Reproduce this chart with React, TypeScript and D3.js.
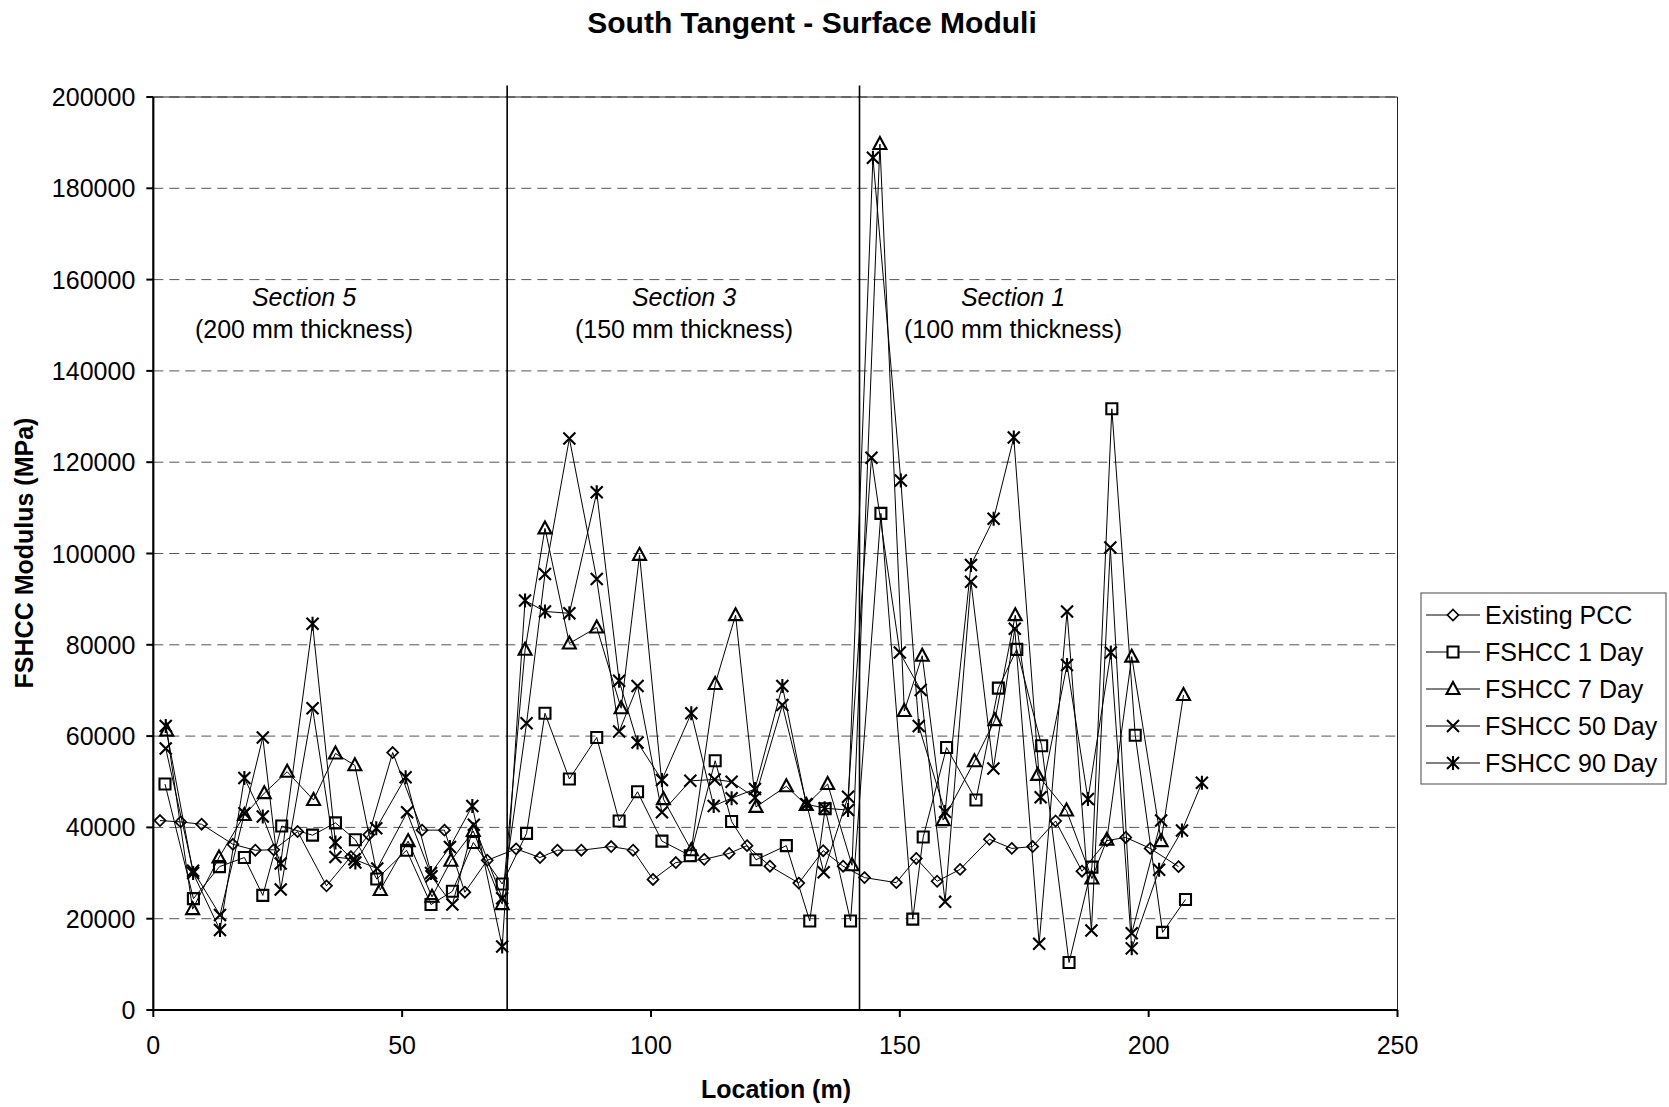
import React from "react";
import * as d3 from "d3";

// ---------- DATA ----------
const seriesNames = ["Existing PCC", "FSHCC 1 Day", "FSHCC 7 Day", "FSHCC 50 Day", "FSHCC 90 Day"];
const markerTypes = ["diamond", "square", "triangle", "cross", "asterisk"];

const pccX = [1.35, 5.5, 9.7, 16.0, 20.5, 24.2, 29.0, 34.8, 39.7, 43.3, 48.1, 54.0, 58.5, 62.6, 67.1, 72.9, 77.7, 81.2, 86.0, 92.0, 96.4, 100.4, 105.0, 110.7, 115.7, 119.3, 123.9, 129.7, 134.6, 138.6, 142.9, 149.3, 153.3, 157.5, 162.1, 168.0, 172.5, 176.7, 181.3, 186.6, 191.6, 195.4, 200.3, 206.0];
const pccY = [41500, 41200, 40700, 36300, 35000, 35100, 39100, 27200, 33600, 38400, 56400, 39400, 39400, 25800, 32800, 35300, 33400, 35000, 35000, 35800, 35000, 28600, 32300, 33000, 34300, 36000, 31500, 27800, 34900, 31500, 29000, 27900, 33200, 28200, 30800, 37400, 35400, 35800, 41400, 30400, 37100, 37800, 35400, 31400];

const day1X = [2.35, 8.06, 13.3, 18.3, 22.0, 25.8, 32.0, 36.6, 40.6, 44.9, 50.9, 55.8, 60.1, 64.3, 70.1, 75.0, 78.7, 83.6, 89.1, 93.6, 97.3, 102.2, 107.9, 112.9, 116.2, 121.1, 127.2, 131.9, 135.0, 140.1, 146.2, 152.6, 154.7, 159.4, 165.3, 169.8, 173.5, 178.5, 184.0, 188.6, 192.6, 197.3, 202.8, 207.4];
const day1Y = [49500, 24400, 31400, 33400, 25100, 40300, 38300, 41000, 37300, 28700, 35000, 23100, 26000, 36700, 27600, 38700, 65000, 50600, 59700, 41400, 47800, 37000, 33800, 54600, 41300, 32900, 36000, 19500, 44100, 19500, 108800, 19900, 37900, 57500, 46000, 70500, 79000, 57900, 10400, 31300, 131700, 60200, 17000, 24200];

const day7X = [2.7, 7.9, 13.2, 18.3, 22.3, 26.9, 32.2, 36.6, 40.5, 45.6, 51.2, 56.0, 59.8, 64.3, 70.1, 74.7, 78.7, 83.6, 89.1, 94.0, 97.7, 102.5, 108.1, 112.9, 117.0, 121.1, 127.2, 131.2, 135.5, 140.4, 146.0, 150.9, 154.5, 158.7, 165.0, 169.1, 173.2, 177.7, 183.5, 188.6, 191.6, 196.6, 202.5, 207.0];
const day7Y = [61200, 22100, 33400, 42700, 47500, 52200, 46000, 56200, 53600, 26300, 37000, 24800, 32700, 39200, 23200, 78900, 105500, 80300, 83800, 66100, 99700, 46200, 35000, 71400, 86500, 44500, 49000, 44900, 49500, 31700, 189700, 65500, 77600, 41600, 54500, 63500, 86500, 51500, 43700, 28800, 37300, 77400, 37000, 69000];

const day50X = [2.5, 8.0, 13.4, 18.3, 22.0, 25.6, 32.0, 36.6, 40.4, 45.0, 51.0, 55.9, 60.1, 64.4, 70.1, 75.0, 78.7, 83.6, 89.1, 93.6, 97.3, 102.2, 107.9, 112.8, 116.2, 120.9, 126.4, 131.3, 134.7, 139.6, 144.3, 150.0, 154.2, 159.1, 164.3, 168.8, 173.1, 178.0, 183.6, 188.5, 192.3, 196.6, 202.5];
const day50Y = [57300, 30500, 20800, 43100, 59700, 26400, 66100, 33500, 33000, 31000, 43300, 29300, 23100, 40600, 24500, 62800, 95500, 125200, 94400, 61000, 71000, 43300, 50200, 50500, 50000, 46500, 66800, 45000, 30200, 46700, 121000, 78300, 70100, 23700, 93800, 52900, 83500, 14500, 87300, 17400, 101300, 16800, 41500];

const day90X = [2.5, 8.0, 13.4, 18.3, 22.0, 25.6, 32.0, 36.6, 40.6, 44.8, 50.7, 55.8, 59.6, 64.1, 70.1, 74.7, 78.7, 83.6, 89.1, 93.6, 97.3, 102.2, 108.1, 112.6, 116.2, 120.9, 126.4, 131.2, 134.9, 139.6, 144.6, 150.2, 153.8, 159.1, 164.3, 168.85, 172.9, 178.3, 183.6, 187.8, 192.4, 196.6, 202.1, 206.7, 210.7];
const day90Y = [62200, 30000, 17500, 50800, 42400, 32100, 84600, 36700, 32300, 39800, 51000, 30000, 35700, 44700, 13900, 89700, 87300, 86900, 113400, 72100, 58600, 50400, 65000, 44700, 46400, 48400, 71000, 45100, 44200, 43800, 186700, 116000, 62200, 43400, 97500, 107600, 125400, 46600, 75600, 46200, 78300, 13500, 30700, 39300, 49800];

const xTicks = [0, 50, 100, 150, 200, 250];
const yTicks = [0, 20000, 40000, 60000, 80000, 100000, 120000, 140000, 160000, 180000, 200000];
const sectionBounds = [71.1, 141.9];
const sectionNames = ["Section 5", "Section 3", "Section 1"];
const sectionThickness = ["(200 mm thickness)", "(150 mm thickness)", "(100 mm thickness)"];

const seriesX = [pccX, day1X, day7X, day50X, day90X];
const seriesY = [pccY, day1Y, day7Y, day50Y, day90Y];

// ---------- LAYOUT ----------
const W = 1669;
const H = 1107;
const PL = 153.3, PR = 1397.5, PT = 97, PB = 1010;
const FONT = "Arial, 'Liberation Sans', Helvetica, sans-serif";
const sectionLabelPx = [304, 684, 1013];

function markerPath(type: string, cx: number, cy: number): string {
  switch (type) {
    case "diamond": {
      const s = 5.5;
      return `M${cx},${cy - s}L${cx + s},${cy}L${cx},${cy + s}L${cx - s},${cy}Z`;
    }
    case "square": {
      const s = 5.5;
      return `M${cx - s},${cy - s}L${cx + s},${cy - s}L${cx + s},${cy + s}L${cx - s},${cy + s}Z`;
    }
    case "triangle": {
      return `M${cx},${cy - 7}L${cx + 6.5},${cy + 5}L${cx - 6.5},${cy + 5}Z`;
    }
    case "cross": {
      const s = 6;
      return `M${cx - s},${cy - s}L${cx + s},${cy + s}M${cx + s},${cy - s}L${cx - s},${cy + s}`;
    }
    case "asterisk": {
      const s = 6;
      return `M${cx - s},${cy - s}L${cx + s},${cy + s}M${cx + s},${cy - s}L${cx - s},${cy + s}M${cx},${cy - 7}L${cx},${cy + 7}`;
    }
  }
  return "";
}

const markerWidth: Record<string, number> = {
  diamond: 1.7,
  square: 2.1,
  triangle: 2.1,
  cross: 2.1,
  asterisk: 2.1,
};

export default function App() {
  const x = d3.scaleLinear().domain([0, 250]).range([PL, PR]);
  const y = d3.scaleLinear().domain([0, 200000]).range([PB, PT]);

  const line = d3
    .line<[number, number]>()
    .x((d) => x(d[0]))
    .y((d) => y(d[1]));

  const legendX = 1421, legendY = 593, legendW = 245, legendH = 191;
  const legendRow = 37;

  return (
    <svg
      width={W}
      height={H}
      viewBox={`0 0 ${W} ${H}`}
      style={{ position: "absolute", left: 0, top: 0, background: "#fff" }}
      fontFamily={FONT}
    >
      <rect x={0} y={0} width={W} height={H} fill="#fff" />
      {/* Title */}
      <text x={812} y={22} textAnchor="middle" dominantBaseline="central" fontSize={30} fontWeight="bold">
        South Tangent - Surface Moduli
      </text>

      {/* gridlines */}
      {yTicks.slice(1).map((t) => (
        <line
          key={"g" + t}
          x1={PL}
          x2={PR}
          y1={y(t)}
          y2={y(t)}
          stroke="#555"
          strokeWidth={1}
          strokeDasharray="10,6"
        />
      ))}
      {/* plot border */}
      <line x1={PL} x2={PR} y1={PT} y2={PT} stroke="#222" strokeWidth={1} />
      <line x1={PR} x2={PR} y1={PT} y2={PB} stroke="#222" strokeWidth={1} />

      {/* section lines */}
      {sectionBounds.map((b) => (
        <line key={"s" + b} x1={x(b)} x2={x(b)} y1={y(202500)} y2={PB} stroke="#000" strokeWidth={1.6} />
      ))}

      {/* section labels */}
      {sectionNames.map((n, i) => (
        <g key={n}>
          <text x={sectionLabelPx[i]} y={297} textAnchor="middle" dominantBaseline="central" fontSize={25} fontStyle="italic">
            {n}
          </text>
          <text x={sectionLabelPx[i]} y={329} textAnchor="middle" dominantBaseline="central" fontSize={25}>
            {sectionThickness[i]}
          </text>
        </g>
      ))}

      {/* series */}
      {seriesNames.map((name, si) => {
        const pts: [number, number][] = seriesX[si].map((xv, i) => [xv, seriesY[si][i]]);
        const mt = markerTypes[si];
        return (
          <g key={name}>
            <path d={line(pts) || ""} fill="none" stroke="#000" strokeWidth={1} />
            {pts.map((p, i) => (
              <path
                key={i}
                d={markerPath(mt, x(p[0]), y(p[1]))}
                fill="none"
                stroke="#000"
                strokeWidth={markerWidth[mt]}
              />
            ))}
          </g>
        );
      })}

      {/* axes */}
      <line x1={PL} x2={PL} y1={PT} y2={PB + 1} stroke="#000" strokeWidth={2.2} />
      <line x1={PL - 1} x2={PR} y1={PB} y2={PB} stroke="#000" strokeWidth={2.2} />
      {yTicks.map((t) => (
        <g key={"yt" + t}>
          <line x1={PL - 7} x2={PL} y1={y(t)} y2={y(t)} stroke="#000" strokeWidth={2} />
          <text x={PL - 18} y={y(t)} textAnchor="end" dominantBaseline="central" fontSize={25}>
            {t}
          </text>
        </g>
      ))}
      {xTicks.map((t) => (
        <g key={"xt" + t}>
          <line x1={x(t)} x2={x(t)} y1={PB} y2={PB + 7} stroke="#000" strokeWidth={2} />
          <text x={x(t)} y={1045} textAnchor="middle" dominantBaseline="central" fontSize={25}>
            {t}
          </text>
        </g>
      ))}

      {/* axis titles */}
      <text x={776} y={1089} textAnchor="middle" dominantBaseline="central" fontSize={25} fontWeight="bold">
        Location (m)
      </text>
      <text
        transform={`translate(24, ${553}) rotate(-90)`}
        textAnchor="middle"
        dominantBaseline="central"
        fontSize={25}
        fontWeight="bold"
      >
        FSHCC Modulus (MPa)
      </text>

      {/* legend */}
      <rect x={legendX} y={legendY} width={legendW} height={legendH} fill="#fff" stroke="#666" strokeWidth={1.2} />
      {seriesNames.map((name, i) => {
        const cy = legendY + 22 + i * legendRow;
        const mt = markerTypes[i];
        return (
          <g key={"lg" + name}>
            <line x1={legendX + 5} x2={legendX + 59} y1={cy} y2={cy} stroke="#000" strokeWidth={1} />
            <path d={markerPath(mt, legendX + 32, cy)} fill={mt === "cross" || mt === "asterisk" ? "none" : "#fff"} stroke="#000" strokeWidth={markerWidth[mt]} />
            <text x={legendX + 64} y={cy} dominantBaseline="central" fontSize={25}>
              {name}
            </text>
          </g>
        );
      })}
    </svg>
  );
}
